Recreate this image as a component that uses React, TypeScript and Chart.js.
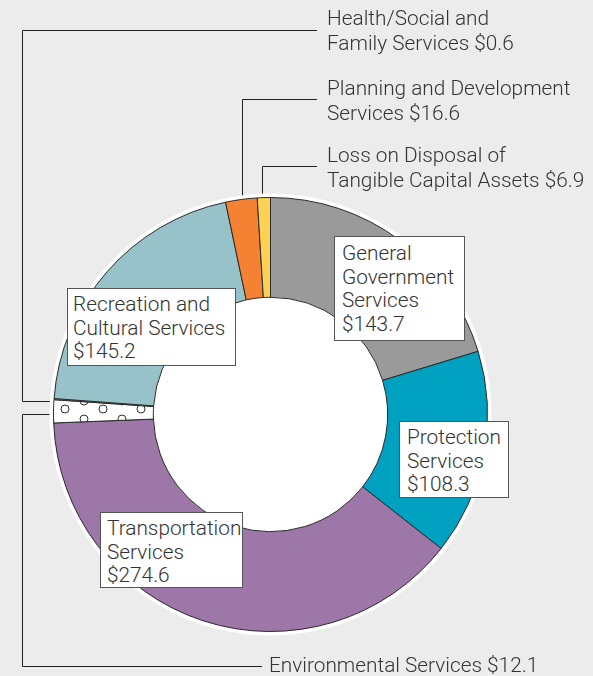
import React, { useEffect, useRef } from "react";
import { Chart, registerables } from "chart.js";

Chart.register(...registerables);

const categories = [
  "General Government Services",
  "Protection Services",
  "Transportation Services",
  "Environmental Services",
  "Health/Social and Family Services",
  "Recreation and Cultural Services",
  "Planning and Development Services",
  "Loss on Disposal of Tangible Capital Assets",
];
const values = [143.7, 108.3, 274.6, 12.1, 0.6, 145.2, 16.6, 6.9];
const colors = ["#9a9a9a", "#00a0c1", "#9c77a7", "PATTERN", "#f4a622", "#98c2ca", "#f58233", "#fdd153"];

const W = 593;
const H = 676;
const BG = "#ebeceb";
const FONT = "Roboto, 'Liberation Sans', Arial, sans-serif";
const TEXT = "#333333";
const FS = 20.8;

function makePattern(): CanvasPattern | string {
  const c = document.createElement("canvas");
  c.width = 38;
  c.height = 18;
  const g = c.getContext("2d");
  if (!g) return "#ffffff";
  g.fillStyle = "#ffffff";
  g.fillRect(0, 0, 38, 18);
  g.strokeStyle = "#333333";
  g.lineWidth = 1;
  g.beginPath();
  g.arc(8, 5, 4, 0, Math.PI * 2);
  g.stroke();
  g.beginPath();
  g.arc(27, 13, 4, 0, Math.PI * 2);
  g.stroke();
  const p = g.createPattern(c, "repeat");
  return p || "#ffffff";
}

const haloPlugin = {
  id: "halo",
  beforeDatasetsDraw(chart: any) {
    const arc = chart.getDatasetMeta(0).data[0];
    if (!arc) return;
    const { x, y, outerRadius } = arc.getProps(["x", "y", "outerRadius"], true);
    const ctx = chart.ctx;
    ctx.save();
    ctx.strokeStyle = "#222222";
    ctx.lineWidth = 1;
    const R = outerRadius + 4;
    const edgeX = (yy: number) => x - Math.sqrt(Math.max(R * R - (yy - y) * (yy - y), 0));
    const edgeY = (xx: number) => y - Math.sqrt(Math.max(R * R - (xx - x) * (xx - x), 0));
    ctx.beginPath();
    ctx.moveTo(317, 30.5);
    ctx.lineTo(22.5, 30.5);
    ctx.lineTo(22.5, 401.5);
    ctx.lineTo(edgeX(401.5) + 2, 401.5);
    ctx.moveTo(edgeX(414.5) + 2, 414.5);
    ctx.lineTo(22.5, 414.5);
    ctx.lineTo(22.5, 666.5);
    ctx.lineTo(262, 666.5);
    ctx.moveTo(317, 99.5);
    ctx.lineTo(242.5, 99.5);
    ctx.lineTo(242.5, edgeY(242.5) + 2);
    ctx.moveTo(317, 166.5);
    ctx.lineTo(262.5, 166.5);
    ctx.lineTo(262.5, edgeY(262.5) + 2);
    ctx.stroke();
    ctx.fillStyle = "#ffffff";
    ctx.beginPath();
    ctx.arc(x, y, outerRadius + 4, 0, Math.PI * 2);
    ctx.fill();
    ctx.restore();
  },
};

const boxStyle = (left: number, top: number, width: number, height: number, padL: number, padT: number): React.CSSProperties => ({
  position: "absolute",
  left,
  top,
  width,
  height,
  boxSizing: "border-box",
  background: "#ffffff",
  border: "1px solid #555555",
  paddingLeft: padL,
  paddingTop: padT,
  fontFamily: FONT,
  fontWeight: 300,
  fontSize: FS,
  lineHeight: "23.5px",
  color: TEXT,
  whiteSpace: "nowrap",
});

const outStyle = (left: number, top: number): React.CSSProperties => ({
  position: "absolute",
  left,
  top,
  fontFamily: FONT,
  fontWeight: 300,
  fontSize: FS,
  lineHeight: "24.5px",
  color: TEXT,
  whiteSpace: "nowrap",
});

export default function App() {
  const ref = useRef<HTMLCanvasElement>(null);
  useEffect(() => {
    document.body.style.margin = "0";
    document.body.style.background = BG;
    const canvas = ref.current;
    if (!canvas) return;
    const pattern = makePattern();
    const chart = new Chart(canvas, {
      type: "doughnut",
      data: {
        labels: categories,
        datasets: [
          {
            data: values,
            backgroundColor: colors.map((c) => (c === "PATTERN" ? pattern : c)),
            borderColor: "#2a2a2a",
            borderWidth: 1,
          },
        ],
      },
      options: {
        responsive: false,
        animation: false,
        cutout: "54%",
        layout: { padding: { left: 53, right: 105, top: 197, bottom: 44 } },
        plugins: { legend: { display: false }, tooltip: { enabled: false } },
      },
      plugins: [haloPlugin],
    });
    return () => chart.destroy();
  }, []);

  return (
    <div style={{ position: "relative", width: W, height: H, background: BG, overflow: "hidden" }}>
      <canvas ref={ref} width={W} height={H} style={{ position: "absolute", left: 0, top: 0 }} />
      <div style={outStyle(327, 6)}>Health/Social and<br />Family Services $0.6</div>
      <div style={outStyle(327, 76)}>Planning and Development<br />Services $16.6</div>
      <div style={outStyle(327, 143)}>Loss on Disposal of<br />Tangible Capital Assets $6.9</div>
      <div style={outStyle(269, 653)}>Environmental Services $12.1</div>
      <div style={boxStyle(334, 236, 131, 105, 7, 5)}>General<br />Government<br />Services<br />$143.7</div>
      <div style={boxStyle(67, 288, 169, 78, 5, 4)}>Recreation and<br />Cultural Services<br />$145.2</div>
      <div style={boxStyle(399, 421, 110, 77, 7, 4)}>Protection<br />Services<br />$108.3</div>
      <div style={boxStyle(100, 512, 143, 76, 6, 4)}>Transportation<br />Services<br />$274.6</div>
    </div>
  );
}
